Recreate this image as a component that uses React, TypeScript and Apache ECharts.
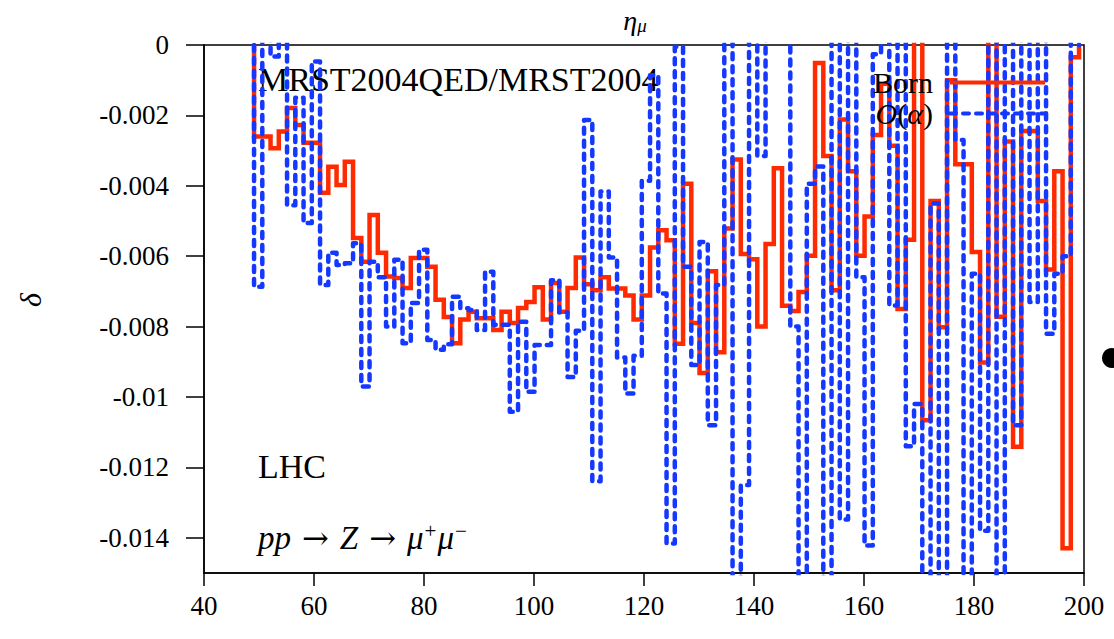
import React, { useEffect, useRef } from "react";
import * as echarts from "echarts";

// Histogram binning (GeV): first lower edge and bin width
const binLow = 49.1;
const binWidth = 1.5;

// delta per bin, Born level
const born = [
  -0.0026, -0.0026, -0.00293, -0.00246, -0.00179, -0.00227, -0.00278, -0.00278, -0.0042, -0.00346,
  -0.00398, -0.00332, -0.00548, -0.00616, -0.00483, -0.0059, -0.00658, -0.00662, -0.0069, -0.00605,
  -0.00605, -0.0063, -0.00724, -0.00773, -0.00847, -0.0078, -0.00758, -0.00776, -0.00776, -0.0081,
  -0.00758, -0.0079, -0.00747, -0.0073, -0.00688, -0.0078, -0.00676, -0.00758, -0.0069, -0.00604,
  -0.0068, -0.00697, -0.0066, -0.00692, -0.00692, -0.00712, -0.0078, -0.00712, -0.00575, -0.00526,
  -0.00555, -0.00849, -0.00394, -0.0079, -0.00932, -0.00643, -0.00873, -0.00521, -0.00325, -0.00594,
  -0.00609, -0.008, -0.00565, -0.0035, -0.00741, -0.00756, -0.00702, -0.00599, -0.00051, -0.00315,
  -0.00697, -0.00212, -0.00359, -0.00599, -0.00487, -0.00256, -0.0011, -0.00286, -0.0075, -0.00553,
  0.0008, -0.01066, -0.00443, -0.00802, -0.001, -0.00339, -0.00339, -0.00588, -0.00902, 0.0008,
  -0.00772, -0.00274, -0.01141, -0.00244, -0.00244, -0.00443, -0.00638, -0.00359, -0.0143, -0.00035,
];

// delta per bin, O(alpha)
const oAlpha = [
  -0.00687, 0.0008, -0.00033, 0.0008, -0.00455, -0.0015, -0.00506, -0.00047, -0.00682, -0.0059,
  -0.00625, -0.0062, -0.00563, -0.0097, -0.00616, -0.0066, -0.008, -0.0061, -0.00847, -0.00733,
  -0.00582, -0.00838, -0.00866, -0.0085, -0.00715, -0.00748, -0.00753, -0.0081, -0.00644, -0.00795,
  -0.00795, -0.01042, -0.00786, -0.00985, -0.00852, -0.00852, -0.00668, -0.0076, -0.00943, -0.00812,
  -0.00213, -0.01239, -0.00416, -0.00604, -0.00888, -0.0099, -0.00883, -0.00386, -0.00086, -0.00706,
  -0.01416, -0.00005, -0.0063, -0.00909, -0.0056, -0.0108, -0.00682, 0.0008, -0.0165, -0.0125,
  0.0008, -0.00315, 0.0008, 0.0008, 0.0008, -0.008, -0.0165, -0.00394, -0.00345, -0.0165,
  0.0008, -0.01348, 0.0008, -0.0066, -0.01422, -0.00026, 0.0008, -0.0074, 0.0008, -0.0114,
  -0.0102, -0.0165, -0.0045, -0.0165, 0.0008, -0.0027, -0.0165, -0.0065, -0.0138, 0.0008,
  -0.0165, 0.0008, -0.0108, 0.0008, -0.0073, 0.0008, -0.0082, -0.0065, -0.006, 0.0008,
];

const yTickValues = [0, -0.002, -0.004, -0.006, -0.008, -0.01, -0.012, -0.014];
const xMin = 40;
const xMax = 200;
const xStep = 20;
const yMin = -0.015;
const yMax = 0;

const SERIF = "'Liberation Serif', 'DejaVu Serif', serif";
const ARROW_FONT = "'DejaVu Serif', serif";
const RED = "#ff2a00";
const BLUE = "#1438ff";

// Histogram outline: rises from zero at the first edge, returns to zero at the last
function histogramOutline(values: number[]): number[][] {
  const edge = (i: number) => +(binLow + i * binWidth).toFixed(4);
  const pts: number[][] = [[edge(0), 0]];
  values.forEach((v, i) => {
    pts.push([edge(i), v]);
    pts.push([edge(i + 1), v]);
  });
  pts.push([edge(values.length), 0]);
  return pts;
}

function formatTick(v: number): string {
  if (v === 0) return "0";
  return String(+v.toFixed(3));
}

export default function App() {
  const ref = useRef<HTMLDivElement>(null);

  useEffect(() => {
    if (!ref.current) return;
    const chart = echarts.init(ref.current, null, { renderer: "svg" });

    const option: any = {
      animation: false,
      backgroundColor: "#ffffff",
      grid: {
        left: 204,
        right: 30,
        top: 45,
        bottom: 66,
        outerBoundsMode: "none",
        containLabel: false,
        show: true,
        borderColor: "#000",
        borderWidth: 1.5,
        backgroundColor: "transparent",
      },
      xAxis: [
        {
          type: "value",
          min: xMin,
          max: xMax,
          interval: xStep,
          axisLine: { show: true, onZero: false, lineStyle: { color: "#000", width: 1.5 } },
          axisTick: { show: true, inside: false, length: 13, lineStyle: { color: "#000", width: 1.5 } },
          axisLabel: { color: "#000", fontFamily: SERIF, fontSize: 27, margin: 19 },
          splitLine: { show: false },
        },
        {
          type: "value",
          position: "top",
          min: xMin,
          max: xMax,
          axisLine: { show: false },
          axisTick: { show: false },
          axisLabel: { show: false },
          splitLine: { show: false },
          name: "{e|η}{s|μ}",
          nameLocation: "middle",
          nameGap: 10,
          nameTextStyle: {
            padding: [0, 18, 0, 0],
            rich: {
              e: { fontFamily: SERIF, fontStyle: "italic", fontSize: 28, color: "#000", lineHeight: 30 },
              s: { fontFamily: SERIF, fontStyle: "italic", fontSize: 19, color: "#000", verticalAlign: "bottom", lineHeight: 30, padding: [12, 0, 0, 0] },
            },
          },
        },
      ],
      yAxis: {
        type: "value",
        min: yMin,
        max: yMax,
        axisLine: { show: true, onZero: false, lineStyle: { color: "#000", width: 1.5 } },
        axisTick: {
          show: true,
          inside: false,
          length: 18,
          customValues: yTickValues,
          lineStyle: { color: "#000", width: 1.5 },
        },
        axisLabel: {
          color: "#000",
          fontFamily: SERIF,
          fontSize: 27,
          margin: 35,
          customValues: yTickValues,
          formatter: (v: number) => formatTick(v),
        },
        splitLine: { show: false },
      },
      legend: {
        orient: "vertical",
        right: 62,
        top: 62,
        align: "right",
        itemWidth: 95,
        itemHeight: 14,
        itemGap: 0,
        itemStyle: { opacity: 0 },
        lineStyle: { width: 4 },
        textStyle: {
          fontFamily: SERIF,
          fontSize: 30,
          color: "#000",
          lineHeight: 31,
          padding: [0, 12, 0, 0],
          rich: {
            o: { fontFamily: SERIF, fontStyle: "italic", fontSize: 30, color: "#000", lineHeight: 31 },
            p: { fontFamily: SERIF, fontSize: 30, color: "#000", lineHeight: 31 },
          },
        },
        formatter: (name: string) =>
          name === "Born" ? "Born" : "{o|O}{p|(}{o|α}{p|)}",
        data: ["Born", "O(α)"],
      },
      series: [
        {
          name: "Born",
          type: "line",
          data: histogramOutline(born),
          showSymbol: false,
          symbol: "none",
          clip: true,
          lineStyle: { color: RED, width: 4.5, join: "miter", cap: "butt" },
          itemStyle: { color: RED },
          z: 2,
        },
        {
          name: "O(α)",
          type: "line",
          data: histogramOutline(oAlpha),
          showSymbol: false,
          symbol: "none",
          clip: true,
          lineStyle: { color: BLUE, width: 4.5, type: [6, 7], cap: "round", join: "round" },
          itemStyle: { color: BLUE },
          z: 3,
        },
      ],
      graphic: [
        {
          // vertical axis title
          type: "text",
          x: 30,
          y: 300,
          rotation: Math.PI / 2,
          style: {
            text: "δ",
            font: `italic 30px ${SERIF}`,
            fill: "#000",
            align: "center",
            verticalAlign: "middle",
          },
        },
        {
          type: "text",
          left: 258,
          top: 62,
          style: { text: "MRST2004QED/MRST2004", font: `34px ${SERIF}`, fill: "#000" },
        },
        {
          type: "text",
          left: 258,
          top: 449,
          style: { text: "LHC", font: `34px ${SERIF}`, fill: "#000" },
        },
        {
          type: "text",
          left: 258,
          top: 520,
          style: {
            text: "{i|pp}{a|→}{i|Z}{a|→}{i|μ}{u|+}{i|μ}{u|−}",
            rich: {
              i: { fontFamily: SERIF, fontStyle: "italic", fontSize: 33, fill: "#000", lineHeight: 36 },
              a: { fontFamily: ARROW_FONT, fontSize: 32, fill: "#000", lineHeight: 36, padding: [0, 11, 0, 11] },
              u: { fontFamily: SERIF, fontSize: 21, fill: "#000", lineHeight: 36, verticalAlign: "top", padding: [0, 1, 10, 1] },
            },
          },
        },
        {
          type: "circle",
          shape: { cx: 1112, cy: 358, r: 10 },
          style: { fill: "#000" },
        },
      ],
    };

    chart.setOption(option);
    return () => chart.dispose();
  }, []);

  return (
    <div
      ref={ref}
      style={{ position: "fixed", left: 0, top: 0, width: 1114, height: 639, background: "#fff" }}
    />
  );
}
